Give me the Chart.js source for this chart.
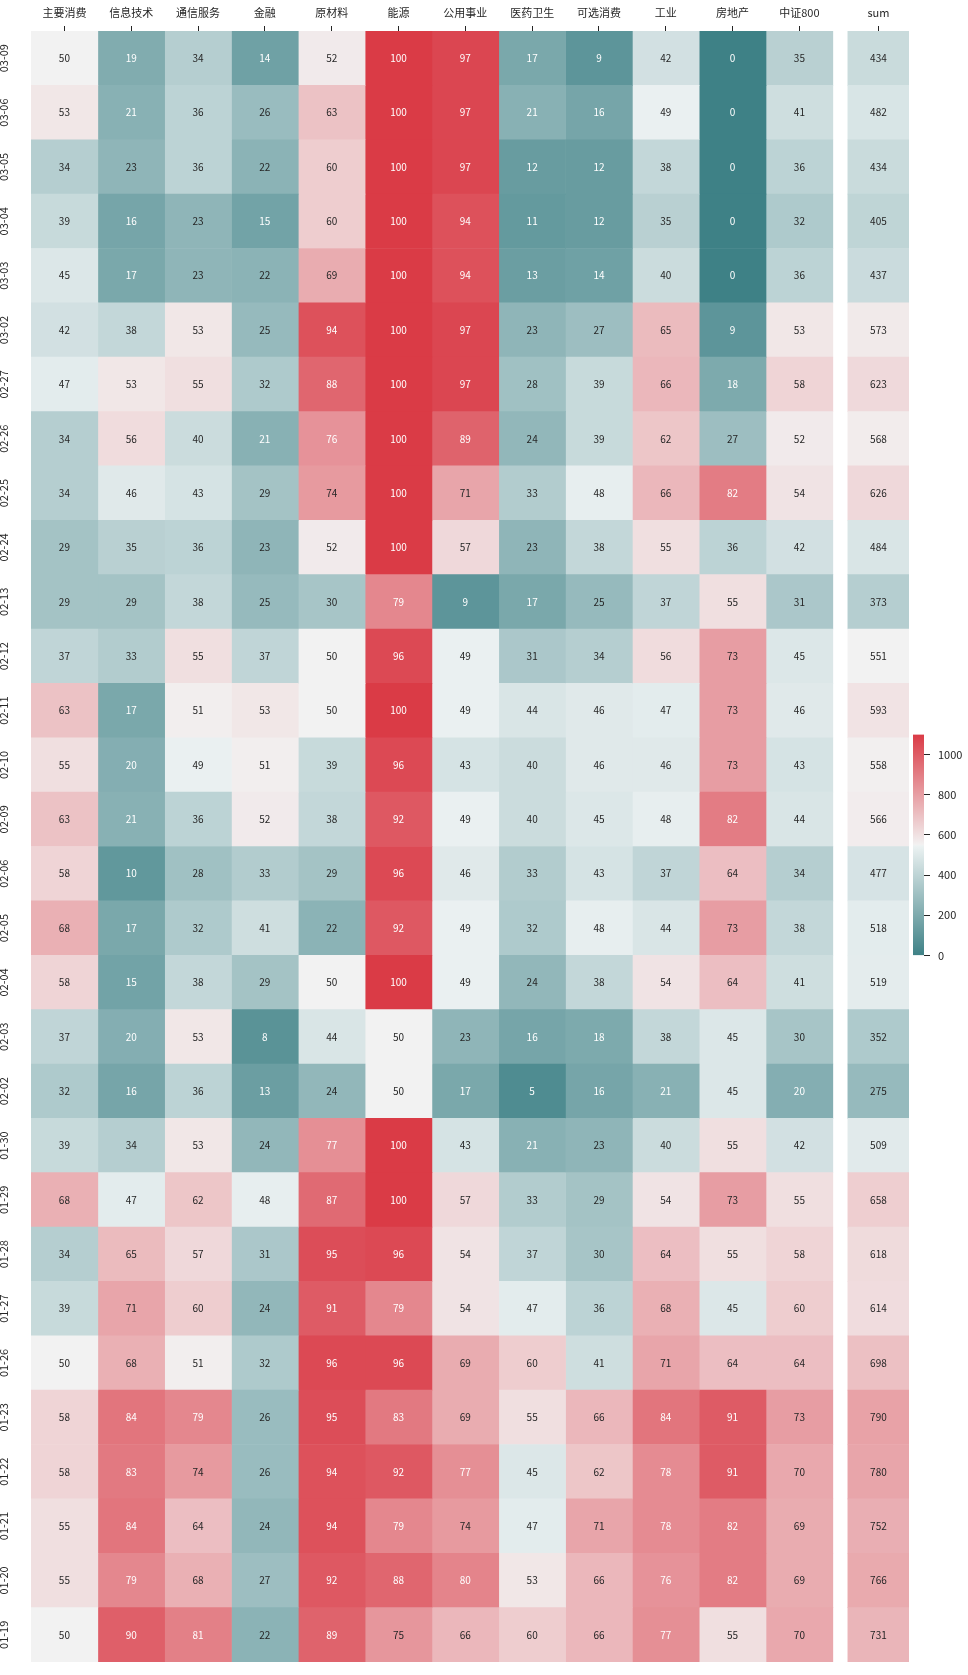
<!DOCTYPE html>
<html>
<head>
<meta charset="utf-8">
<script src="https://cdn.jsdelivr.net/npm/chart.js@4"></script>
<style>
  html, body { margin: 0; padding: 0; background: #fff; }
  #wrap { position: relative; width: 968px; height: 1675px; }
  #heat { position: absolute; left: 0; top: 0; width: 968px; height: 1675px; }
  #cbar { position: absolute; left: 905px; top: 720px; width: 63px; height: 250px; }
</style>
</head>
<body>
<div id="wrap">
  <canvas id="heat" width="968" height="1675"></canvas>
  <canvas id="cbar" width="63" height="250"></canvas>
</div>
<script>
// rows, top to bottom
const dates = ['03-09', '03-06', '03-05', '03-04', '03-03', '03-02', '02-27', '02-26', '02-25', '02-24',
               '02-13', '02-12', '02-11', '02-10', '02-09', '02-06', '02-05', '02-04', '02-03', '02-02',
               '01-30', '01-29', '01-28', '01-27', '01-26', '01-23', '01-22', '01-21', '01-20', '01-19'];

const sectors = ['主要消费', '信息技术', '通信服务', '金融', '原材料', '能源', '公用事业', '医药卫生', '可选消费', '工业', '房地产', '中证800'];

const consumerStaples = [50, 53, 34, 39, 45, 42, 47, 34, 34, 29, 29, 37, 63, 55, 63, 58, 68, 58, 37, 32, 39, 68, 34, 39, 50, 58, 58, 55, 55, 50];
const infoTech        = [19, 21, 23, 16, 17, 38, 53, 56, 46, 35, 29, 33, 17, 20, 21, 10, 17, 15, 20, 16, 34, 47, 65, 71, 68, 84, 83, 84, 79, 90];
const telecom         = [34, 36, 36, 23, 23, 53, 55, 40, 43, 36, 38, 55, 51, 49, 36, 28, 32, 38, 53, 36, 53, 62, 57, 60, 51, 79, 74, 64, 68, 81];
const financials      = [14, 26, 22, 15, 22, 25, 32, 21, 29, 23, 25, 37, 53, 51, 52, 33, 41, 29, 8, 13, 24, 48, 31, 24, 32, 26, 26, 24, 27, 22];
const materials       = [52, 63, 60, 60, 69, 94, 88, 76, 74, 52, 30, 50, 50, 39, 38, 29, 22, 50, 44, 24, 77, 87, 95, 91, 96, 95, 94, 94, 92, 89];
const energy          = [100, 100, 100, 100, 100, 100, 100, 100, 100, 100, 79, 96, 100, 96, 92, 96, 92, 100, 50, 50, 100, 100, 96, 79, 96, 83, 92, 79, 88, 75];
const utilities       = [97, 97, 97, 94, 94, 97, 97, 89, 71, 57, 9, 49, 49, 43, 49, 46, 49, 49, 23, 17, 43, 57, 54, 54, 69, 69, 77, 74, 80, 66];
const healthcare      = [17, 21, 12, 11, 13, 23, 28, 24, 33, 23, 17, 31, 44, 40, 40, 33, 32, 24, 16, 5, 21, 33, 37, 47, 60, 55, 45, 47, 53, 60];
const consumerDisc    = [9, 16, 12, 12, 14, 27, 39, 39, 48, 38, 25, 34, 46, 46, 45, 43, 48, 38, 18, 16, 23, 29, 30, 36, 41, 66, 62, 71, 66, 66];
const industrials     = [42, 49, 38, 35, 40, 65, 66, 62, 66, 55, 37, 56, 47, 46, 48, 37, 44, 54, 38, 21, 40, 54, 64, 68, 71, 84, 78, 78, 76, 77];
const realEstate      = [0, 0, 0, 0, 0, 9, 18, 27, 82, 36, 55, 73, 73, 73, 82, 64, 73, 64, 45, 45, 55, 73, 55, 45, 64, 91, 91, 82, 82, 55];
const csi800          = [35, 41, 36, 32, 36, 53, 58, 52, 54, 42, 31, 45, 46, 43, 44, 34, 38, 41, 30, 20, 42, 55, 58, 60, 64, 73, 70, 69, 69, 70];
const sumValues       = [434, 482, 434, 405, 437, 573, 623, 568, 626, 484, 373, 551, 593, 558, 566, 477, 518, 519, 352, 275,
                         509, 658, 618, 614, 698, 790, 780, 752, 766, 731];

const sectorValues = [consumerStaples, infoTech, telecom, financials, materials, energy, utilities,
                      healthcare, consumerDisc, industrials, realEstate, csi800];

const cbarTicks = [0, 200, 400, 600, 800, 1000];
const cellMax = 100;
const sumMax = 1100;

// layout of the columns on the x scale (one unit = one sector column)
const sumStart = 12.225, sumEnd = 13.14;

// --- seaborn-like diverging palette, husl based ---
const M = [[3.2406, -1.5372, -0.4986], [-0.9689, 1.8758, 0.0415], [0.0557, -0.2040, 1.0570]];
const refU = 0.19784, refV = 0.46834, labE = 0.008856, labK = 903.3;

function maxChroma(L, H) {
  const hrad = H * Math.PI / 180, sinH = Math.sin(hrad), cosH = Math.cos(hrad);
  const sub1 = Math.pow(L + 16, 3) / 1560896;
  const sub2 = sub1 > labE ? sub1 : L / labK;
  let result = Infinity;
  for (const [m1, m2, m3] of M) {
    const top = (0.99915 * m1 + 1.05122 * m2 + 1.14460 * m3) * sub2;
    const rbottom = 0.86330 * m3 - 0.17266 * m2;
    const lbottom = 0.12949 * m3 - 0.38848 * m1;
    const bottom = (rbottom * sinH + lbottom * cosH) * sub2;
    for (const t of [0, 1]) {
      const C = L * (top - 1.05122 * t) / (bottom + 0.17266 * sinH * t);
      if (C > 0 && C < result) result = C;
    }
  }
  return result;
}

function husl(H, S, L) {
  const C = maxChroma(L, H) / 100 * S;
  const U = Math.cos(H * Math.PI / 180) * C, V = Math.sin(H * Math.PI / 180) * C;
  const t = (L + 16) / 116;
  const Y = Math.pow(t, 3) > labE ? Math.pow(t, 3) : (116 * t - 16) / labK;
  const vu = U / (13 * L) + refU, vv = V / (13 * L) + refV;
  const X = 0 - (9 * Y * vu) / ((vu - 4) * vv - vu * vv);
  const Z = (9 * Y - 15 * vv * Y - vv * X) / (3 * vv);
  return M.map(r => {
    const c = r[0] * X + r[1] * Y + r[2] * Z;
    const v = c <= 0.0031308 ? 12.92 * c : 1.055 * Math.pow(c, 1 / 2.4) - 0.055;
    return Math.min(1, Math.max(0, v));
  });
}

const hNeg = 200, hPos = 10;
const negColor = husl(hNeg, 75, 50), negGray = husl(hNeg, 11.25, 95);
const posColor = husl(hPos, 75, 50), posGray = husl(hPos, 11.25, 95);
const midGray = [0.95, 0.95, 0.95];
const stops = [[0, negColor], [127 / 256, negGray], [0.5, midGray], [129 / 256, posGray], [1, posColor]];

function lerp(a, b, u) { return a.map((v, i) => v + (b[i] - v) * u); }

function cmap(t) {
  t = Math.min(1, Math.max(0, t));
  for (let i = 1; i < stops.length; i++) {
    if (t <= stops[i][0]) {
      const [t0, c0] = stops[i - 1], [t1, c1] = stops[i];
      return lerp(c0, c1, (t - t0) / (t1 - t0));
    }
  }
  return posColor;
}

function css(rgb) { return 'rgb(' + rgb.map(v => Math.round(v * 255)).join(',') + ')'; }

function textColorFor(rgb) {
  const lin = rgb.map(c => c <= 0.03928 ? c / 12.92 : Math.pow((c + 0.055) / 1.055, 2.4));
  const lum = 0.2126 * lin[0] + 0.7152 * lin[1] + 0.0722 * lin[2];
  return lum > 0.408 ? '#262626' : '#ffffff';
}

// --- datasets ---
const datasets = sectorValues.map((vals, j) => {
  const cols = vals.map(v => cmap(v / cellMax));
  return {
    label: sectors[j],
    data: vals.map(() => [j, j + 1]),
    values: vals,
    backgroundColor: cols.map(css),
    textColors: cols.map(textColorFor)
  };
});
const sumCols = sumValues.map(v => cmap(v / sumMax));
datasets.push({
  label: 'sum',
  data: sumValues.map(() => [sumStart, sumEnd]),
  values: sumValues,
  backgroundColor: sumCols.map(css),
  textColors: sumCols.map(textColorFor)
});
datasets.forEach(d => {
  d.borderWidth = 0;
  d.barPercentage = 1;
  d.categoryPercentage = 1;
  d.grouped = false;
});

const xLabels = sectors.concat(['sum']);
const xTickPos = sectors.map((s, j) => j + 0.5).concat([(sumStart + sumEnd) / 2]);

const cellLabels = {
  id: 'cellLabels',
  afterDatasetsDraw(chart) {
    const ctx = chart.ctx;
    ctx.save();
    ctx.font = '10px "Noto Sans CJK SC", "Noto Sans", sans-serif';
    ctx.textAlign = 'center';
    ctx.textBaseline = 'middle';
    chart.data.datasets.forEach((ds, di) => {
      chart.getDatasetMeta(di).data.forEach((bar, i) => {
        const p = bar.getProps(['x', 'base', 'y'], true);
        ctx.fillStyle = ds.textColors[i];
        ctx.fillText(String(ds.values[i]), (p.x + p.base) / 2, p.y);
      });
    });
    ctx.restore();
  }
};

Chart.defaults.font.family = '"Noto Sans CJK SC", "Noto Sans", sans-serif';
Chart.defaults.color = '#262626';

new Chart(document.getElementById('heat'), {
  type: 'bar',
  data: { labels: dates, datasets: datasets },
  plugins: [cellLabels],
  options: {
    responsive: false,
    animation: false,
    indexAxis: 'y',
    layout: { padding: { left: 0, top: 0, right: 59, bottom: 13 } },
    plugins: { legend: { display: false }, tooltip: { enabled: false } },
    scales: {
      x: {
        type: 'linear',
        position: 'top',
        min: 0,
        max: sumEnd,
        afterBuildTicks: s => { s.ticks = xTickPos.map(v => ({ value: v })); },
        afterFit: s => { s.height = 31; },
        ticks: {
          autoSkip: false, maxRotation: 0, padding: 7,
          font: { size: 11 }, color: '#262626',
          callback: (v, i) => xLabels[i]
        },
        grid: { drawOnChartArea: false, drawTicks: true, tickLength: 5, color: '#262626' },
        border: { display: false }
      },
      y: {
        type: 'category',
        offset: true,
        afterFit: s => { s.width = 31; },
        ticks: {
          autoSkip: false, minRotation: 90, maxRotation: 90,
          crossAlign: 'center', padding: 5,
          font: { size: 11 }, color: '#262626'
        },
        grid: { display: false },
        border: { display: false }
      }
    }
  }
});

// colour bar for the sum column
function gradientFill(c) {
  const area = c.chart.chartArea;
  if (!area) return 'rgba(0,0,0,0)';
  const g = c.chart.ctx.createLinearGradient(0, area.bottom, 0, area.top);
  stops.forEach(([t, col]) => g.addColorStop(t, css(col)));
  return g;
}

new Chart(document.getElementById('cbar'), {
  type: 'bar',
  data: {
    labels: ['sum'],
    datasets: [{ data: [[0, sumMax]], backgroundColor: gradientFill, borderWidth: 0, barPercentage: 1, categoryPercentage: 1 }]
  },
  options: {
    responsive: false,
    animation: false,
    layout: { padding: { left: 8, top: 13, right: 0, bottom: 11 } },
    plugins: { legend: { display: false }, tooltip: { enabled: false } },
    scales: {
      x: { display: false },
      y: {
        position: 'right',
        min: 0,
        max: sumMax,
        afterBuildTicks: s => { s.ticks = cbarTicks.map(v => ({ value: v })); },
        afterFit: s => { s.width = 44; },
        ticks: { padding: 8, font: { size: 11 }, color: '#262626', callback: v => String(v) },
        grid: { drawOnChartArea: false, tickLength: 6, color: '#262626' },
        border: { display: false }
      }
    }
  }
});
</script>
</body>
</html>
